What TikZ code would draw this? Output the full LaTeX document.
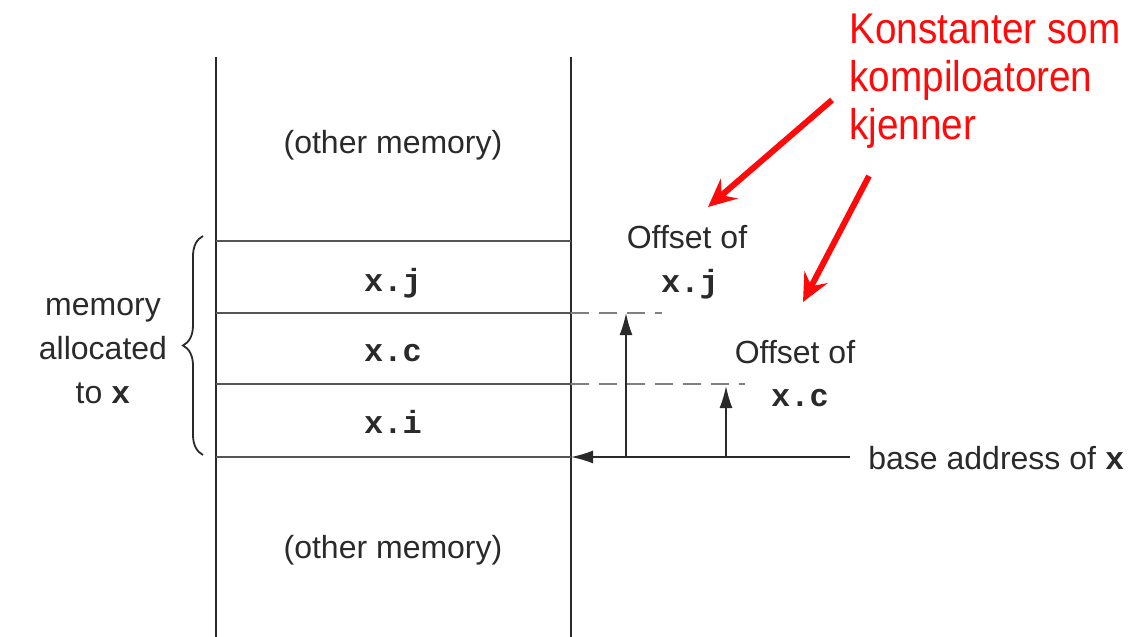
\documentclass[tikz,border=0pt]{standalone}
\usepackage{fontspec}
\setmainfont{Liberation Sans}
\setmonofont{Liberation Mono}
\newfontfamily\notefont[FakeStretch=0.9]{Liberation Sans}
\usetikzlibrary{arrows.meta,decorations.pathreplacing}
\definecolor{inkgray}{HTML}{2A2A2A}
\definecolor{linegray}{HTML}{555555}
\definecolor{notered}{HTML}{FF0A0A}
\newcommand{\fld}[1]{\texttt{\bfseries #1}}
\tikzset{
	lbl/.style={text=inkgray,font=\fontsize{16}{22}\selectfont,inner sep=0pt},
	memline/.style={linegray,line width=1.1pt},
	offarrow/.style={inkgray,line width=0.8pt,-{Latex[length=11pt,width=6.5pt]}},
	note/.style={notered,line width=3pt,-{Stealth[length=14pt,width=13pt,inset=5pt]}}
}
\begin{document}
\begin{tikzpicture}[x=0.5pt,y=-0.5pt]
	\useasboundingbox (0,0) rectangle (1137,637);
	% the memory column
	\coordinate (tl) at (216,57); \coordinate (tr) at (571,57);
	\coordinate (bl) at (216,637); \coordinate (br) at (571,637);
	\draw[inkgray,line width=1.2pt] (tl) -- (bl) (tr) -- (br);
	\coordinate (j0) at (216,241); \coordinate (j1) at (571,241);
	\coordinate (c0) at (216,313); \coordinate (c1) at (571,313); \coordinate (c2) at (662,313);
	\coordinate (i0) at (216,384); \coordinate (i1) at (571,384); \coordinate (i2) at (745,384);
	\coordinate (b0) at (216,457); \coordinate (b1) at (571,457); \coordinate (b2) at (850,457);
	\draw[memline] (j0) -- (j1);
	\draw[memline] (c0) -- (c1);
	\draw[memline] (i0) -- (i1);
	\draw[memline] (b0) -- (b1);
	\draw[memline,dash pattern=on 9pt off 5pt,gray] (c1) -- (c2);
	\draw[memline,dash pattern=on 9pt off 5pt,gray] (i1) -- (i2);
	\node[lbl] (om1) at (393,145) {(other memory)};
	\node[lbl] (xj) at (393,283) {\fld{x.j}};
	\node[lbl] (xc) at (393,353) {\fld{x.c}};
	\node[lbl] (xi) at (393,422) {\fld{x.i}};
	\node[lbl] (om2) at (393,550) {(other memory)};
	% brace and its label
	\draw[inkgray,line width=0.9pt,decorate,decoration={brace,amplitude=10pt}] (203,455) -- (203,236);
	\node[lbl,align=center] (alloc) at (103,351) {memory\\allocated\\to \fld{x}};
	% offsets from the base address
	\node[lbl,anchor=west] (base) at (868,458) {base address of \fld{x}};
	\draw[offarrow] (b2) -- (b1);
	\coordinate (aj) at (626,457); \coordinate (aj2) at (626,313);
	\coordinate (ac) at (726,457); \coordinate (ac2) at (726,386);
	\draw[offarrow] (aj) -- (aj2);
	\draw[offarrow] (ac) -- (ac2);
	\node[lbl] (offj) at (687,237) {Offset of};
	\node[lbl] (offjx) at (690,284) {\fld{x.j}};
	\node[lbl] (offc) at (795,352) {Offset of};
	\node[lbl] (offcx) at (800,398) {\fld{x.c}};
	% red remark
	\node[text=notered,font=\notefont\fontsize{21.5}{24}\selectfont,align=left,anchor=north west,inner sep=0pt] (konst) at (849,14) {Konstanter som\\kompiloatoren\\kjenner};
	\coordinate (n1) at (832,100); \coordinate (t1) at (708,207);
	\coordinate (n2) at (869,176); \coordinate (t2) at (803,302);
	\draw[note] (n1) -- (t1);
	\draw[note] (n2) -- (t2);
\end{tikzpicture}
\end{document}
